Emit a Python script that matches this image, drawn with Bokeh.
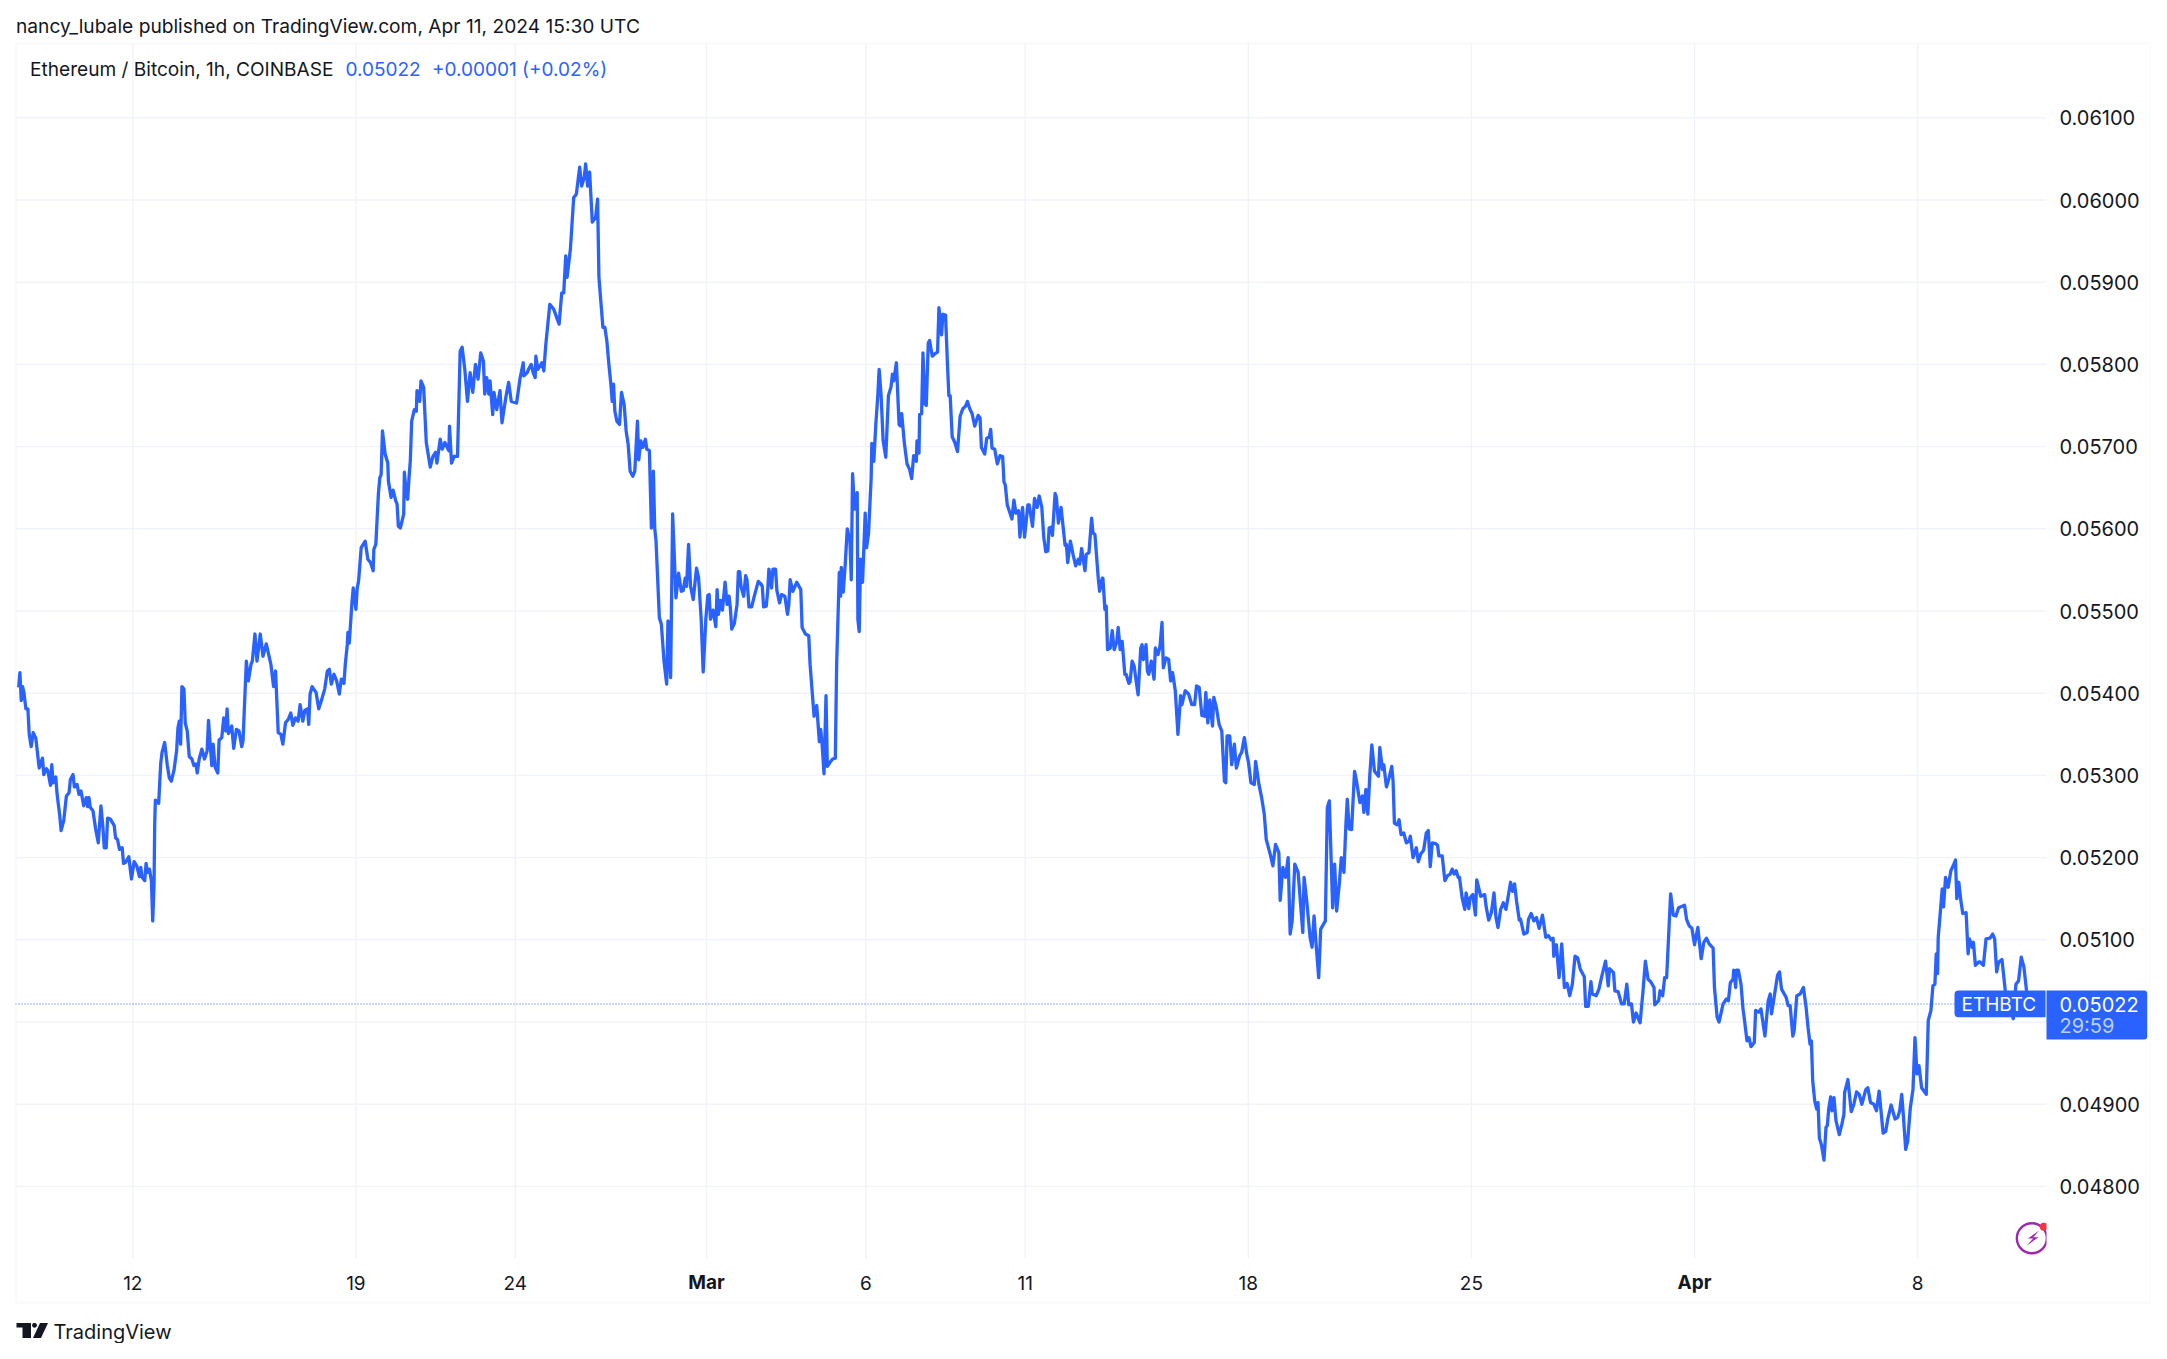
import math
from bokeh.plotting import figure
from bokeh.embed import file_html
from bokeh.resources import INLINE
from bokeh.models import (Range1d, FixedTicker, Label, BoxAnnotation, PolyAnnotation,
                          LinearAxis, NumeralTickFormatter)

# hours since 12 Feb 2024 00:00 UTC, and hourly close x 100000
hours_a = [-86,-85,-84,-83,-82,-80.5,-79,-78,-76.5,-75,
-73,-70.5,-68,-67,-65,-64,-62,-61,-60,-58,
-57,-55,-54,-52,-50,-48,-47,-45,-44,-42,
-40.5,-39,-37,-35,-34,-33,-32,-30,-28,-26,
-24,-22.5,-21.5,-20,-19,-17,-14,-13,-11.5,-10,
-8,-7,-5.5,-3,-1,1,3,5,6,7,
9,10,11,12.5,14,15,16,16.5,17,19.5,
21,22,24,26,27.5,29,31,33,34,35,
36,37,38.5,39.5,41,42.5,44.5,46,47.5,48.5,
50,52,54,56,57,58,59.5,60.5,62,64,
65,67,68.5,70,71,72,74.5,76,78,80,
82,83,85.5,87,89,90,92,93.5,96,98,
100.5,104,106,107.5,109.5,111.5,113,115,117,119,
120.5,122.5,124.5,126,128,129.5,131.5,132.5,133.5,135,
138,140,142,144.5,146.5,148,149.5,151.5,153.5,155.5,
157,159,160]
close_a = [5407,5425,5391,5408,5401,5381,5381,5350,5335,5352,
5345,5309,5321,5301,5308,5306,5288,5313,5291,5298,
5277,5251,5233,5245,5275,5279,5295,5301,5286,5289,
5277,5281,5263,5273,5262,5273,5261,5257,5235,5218,
5263,5237,5212,5212,5248,5247,5239,5224,5222,5210,
5212,5193,5194,5201,5174,5195,5190,5177,5188,5176,
5172,5193,5182,5186,5172,5123,5168,5241,5270,5266,
5314,5328,5340,5312,5297,5293,5306,5330,5358,5366,
5338,5408,5405,5364,5354,5323,5320,5312,5314,5303,
5320,5332,5320,5330,5367,5344,5312,5338,5310,5303,
5343,5346,5370,5354,5381,5351,5360,5333,5356,5354,
5335,5342,5439,5415,5435,5439,5472,5439,5472,5445,
5460,5435,5408,5427,5352,5350,5338,5364,5368,5376,
5361,5370,5366,5386,5366,5379,5381,5362,5399,5408,
5401,5381,5391,5405,5427,5429,5411,5423,5415,5399,
5417,5412,5435]

hours_b = [161.5,162,163,165,166,168,169,170,172,175,
177,179,181,181.5,183,184,185,186,187,188,
190,192,192.5,194.5,196,198,199,200,201.5,204,
204.5,206,207,208,209,210,212,213.5,214,216,
217,219,221,224,226,228,229,231.5,233,235,
238,238.5,240,242,244.5,246.5,248,250,252,254,
256,258,260,262,264,265,266.5,268,269,271,
272,274,276.5,278,281,283,285,289,291.5,294,
294.5,297,298,300,301.5,303,303.5,305,308,309.5,
311]
close_b = [5459,5474,5461,5510,5528,5502,5528,5536,5577,5585,
5563,5559,5549,5575,5581,5613,5644,5662,5666,5719,
5691,5680,5658,5638,5647,5634,5630,5603,5601,5618,
5669,5642,5636,5662,5684,5731,5745,5743,5768,5755,
5780,5772,5705,5675,5688,5693,5680,5709,5697,5705,
5695,5725,5680,5688,5688,5816,5821,5794,5755,5790,
5766,5800,5782,5814,5804,5764,5784,5764,5780,5739,
5766,5745,5768,5729,5761,5778,5755,5753,5782,5802,
5786,5790,5794,5800,5790,5784,5810,5794,5802,5792,
5824]

hours_c = [314,317,321,323,324.5,326,327,329.5,332,334,
336.5,338,340,341,342.5,344,346,348.5,350,351,
354,355.5,357]
close_c = [5873,5867,5849,5887,5887,5932,5906,5940,6003,6007,
6040,6017,6028,6044,6017,6034,5973,5979,6001,5906,
5845,5845,5828]

hours_d = [358.5,360,361,362,363,364.5,366.5,368,370,371.5,
373,374.5,376.5,378,380,381,382.5,384,386,387,
389,390.5,392,393,394,396.5,398,400,402,403,
405,406.5,409,411,413]
close_d = [5800,5776,5755,5776,5743,5731,5727,5766,5751,5719,
5703,5670,5664,5670,5731,5684,5707,5699,5709,5697,
5695,5601,5670,5601,5585,5492,5484,5439,5411,5488,
5419,5618,5516,5546,5524]

hours_e = [414.5,416,417,418.5,420,422,424.5,426,428,429.5,
431.5,433,434,435,437,439,440,441,442.5,444,
446,447.5,449,450,451,453,455,456,457,458,
460,461.5,462.5,464,466,468,471,473,474,475,
477,478,479,481,482,484,485,487,488.5,491,
493,494,495,497,500,503,504,506.5,509,510,
513,515,517,518,519,520.5,522,523,525,527,
529,530,532,533,533.5,535,536.5,538,540,541,
542,543.5,545.5,546,547,548,549.5,551.5,552.5,554,
556,556.5,558,559.5,561,562,563.5,565,567,569,
571,572,573,575,577,578,579,581,583,585,
586.5,588,590,590.5,592,592.5,594,595,596.5,597.5,
599,600,602,604,606,607,608,609,610,612,
613.5,614.5,615.5,617,619,621,623,625,627,628.5,
630,632,634,636.5,638,639,641.5,643,645,646,
647,649,651,653,655,656,657,658.5,662,663.5,
665,667,668,670,671.5,674]
close_e = [5525,5540,5530,5581,5530,5514,5552,5541,5490,5426,
5490,5519,5520,5490,5501,5481,5526,5496,5513,5501,
5535,5508,5518,5503,5478,5485,5508,5548,5548,5530,
5518,5543,5538,5505,5505,5518,5536,5533,5530,5505,
5506,5523,5551,5528,5551,5551,5525,5510,5520,5518,
5496,5508,5538,5524,5535,5526,5480,5472,5470,5435,
5372,5385,5341,5356,5339,5302,5397,5311,5316,5320,
5321,5435,5547,5518,5553,5523,5558,5600,5586,5538,
5667,5624,5644,5490,5475,5563,5535,5619,5577,5594,
5662,5704,5682,5727,5762,5794,5762,5707,5687,5762,
5773,5788,5780,5802,5727,5725,5740,5704,5679,5672,
5661,5689,5682,5707,5692,5739,5740,5814,5752,5750,
5826,5829,5810,5813,5815,5869,5856,5836,5861,5860,
5798,5762,5762,5712,5705,5694,5737,5746,5749,5755,
5747,5740,5725,5738,5735,5699,5691,5710,5712,5721,
5698,5697,5679,5689,5688,5657,5653,5629,5612,5635,
5619,5622,5590,5626,5590,5629]

hours_f = [675,677.5,679,681,682.5,684.5,686,687.5,689,690,
691.5,692.5,694.5,695.5,697,699,702,703,704,706,
708,710,712,713,714.5,717,718,720,722,723,
724.5,727,728,730,730.5,732,733,734,736,737.5,
739,741,742,743.5,745,747,748,750,751,752.5,
754,757,759,760,761,763,764,765,767,769,
770,772,773.5,775,776,778,780,781.5,783,785,
787,789,790,792.5,795,797.5,799.5,801,803,805,
807,808,809.5,811,813,814,816,818,820,822,
823,824,826,827.5,829.5,831,833.5,835,837,839,
840,842,844.5,845.5]
close_f = [5629,5603,5637,5626,5640,5626,5589,5572,5573,5601,
5602,5592,5643,5638,5607,5626,5580,5581,5559,5585,
5569,5555,5563,5557,5576,5549,5569,5571,5613,5595,
5593,5540,5524,5540,5540,5502,5506,5453,5455,5476,
5453,5463,5480,5453,5463,5423,5423,5412,5414,5439,
5433,5398,5455,5459,5441,5459,5427,5423,5439,5417,
5455,5447,5457,5486,5431,5443,5441,5415,5425,5403,
5350,5397,5386,5403,5399,5386,5386,5409,5407,5373,
5372,5401,5364,5392,5360,5395,5382,5362,5354,5293,
5291,5348,5348,5313,5338,5309,5324,5328,5346,5324,
5317,5291,5289,5317]

hours_g = [848,850,852,853.5,856.5,858.5,860.5,863,864,866,
868,870,871.5,873,875,877.5,881,882,884,886.5,
888,889.5,891,893,894.5,898,899.5,901,903.5,905,
906.5,908.5,910,912,913.5,914.5,916,917.75]
close_g = [5289,5273,5253,5222,5204,5190,5216,5206,5148,5188,
5176,5200,5107,5123,5192,5182,5109,5176,5147,5103,
5091,5129,5095,5054,5113,5123,5261,5269,5139,5192,
5135,5168,5200,5182,5241,5271,5235,5234]

hours_h = [920,921.5,924,926,927,928.5,930,931.5,933,935,
938,939,941,942,944,946,948,949,950,952,
953.5,955,957,959,961,962,964,966.5,968,970,
972,974,975.5,977,978.5,981,982.5,983.5,986,988,
990,992,993.5,995,996.5,998,999,1001,1003,1004,
1006,1007,1009,1011,1012,1015,1018,1019,1021,1023,
1025,1026.5,1028,1030,1032,1034,1037.5,1039,1040.5,1042,
1044,1045,1047.5,1050,1051,1053,1055,1057,1059,1061.5,
1064,1066,1068,1069.5,1070,1072,1074,1076,1078,1080,
1082,1084,1086,1088,1090,1093,1094,1096,1098,1099,
1102,1104,1106.5,1109,1111,1112,1115,1116,1118.5,1121,
1123,1125,1126.5,1128.5,1130,1132,1135,1137,1139,1141,
1143,1145.5,1146,1149,1150,1152,1153.5,1155,1158,1160,
1162,1164,1168.5,1170,1172,1174,1176,1178.5]
close_h = [5305,5293,5267,5275,5255,5283,5253,5301,5337,5305,
5299,5334,5307,5313,5286,5297,5311,5293,5242,5240,
5246,5228,5230,5218,5220,5226,5200,5212,5195,5205,
5209,5230,5233,5189,5218,5217,5215,5202,5202,5172,
5178,5180,5186,5180,5184,5176,5176,5151,5137,5157,
5138,5151,5155,5130,5173,5153,5155,5141,5124,5133,
5157,5127,5115,5137,5145,5137,5170,5159,5168,5147,
5124,5125,5107,5109,5125,5132,5123,5127,5114,5130,
5103,5105,5100,5102,5080,5094,5054,5095,5042,5047,
5032,5046,5080,5078,5064,5055,5019,5019,5049,5034,
5032,5040,5058,5074,5044,5065,5060,5038,5037,5022,
5022,5046,5021,5022,5000,5011,4999,5034,5074,5052,
5049,5042,5021,5026,5038,5032,5054,5054,5156,5130,
5129,5139,5142,5125,5117,5114,5094,5115]

hours_i = [1181,1183,1185,1187,1190,1191,1193,1194.5,1197.5,1200,
1201.5,1203,1205,1205.5,1207,1207.5,1209,1211,1212.5,1213.5,
1215.5,1217,1218.5,1221,1222,1224.5,1226,1229,1231.5,1233,
1234,1236.5,1238.5,1240,1241.5,1245,1246.5,1248,1250,1251,
1253,1255.5,1258,1260,1261.5,1263,1264,1265,1266.5,1268,
1269,1270,1271.5,1273.5,1275,1276,1277,1278.5,1279.5,1281,
1282.5,1285,1287,1288.5,1289,1291.5,1294,1296,1298,1300,
1302,1305,1306.5,1308.5,1311,1313,1315,1318,1320,1321.5,
1324,1327,1329,1330.5,1332,1333,1335,1336.5,1338.5,1340.5,
1342,1343.5,1345,1347,1350.5,1352,1354,1355.5,1357,1358,
1359,1359.5,1361,1362.5,1363.5,1365,1367,1369,1371,1372.5,
1373.5,1375,1376.5,1378,1380.5,1382,1383,1385,1386,1387.5,
1390,1391,1393.5,1395.5,1398.5,1400.5,1402,1403.5,1405,1407.5,
1410,1413,1416,1418,1420,1422,1424,1426,1428.5,1431]
close_i = [5077,5097,5102,5095,5090,5042,5006,5000,5022,5028,
5026,5048,5052,5063,5042,5063,5063,5046,5016,5004,
4977,4981,4970,4975,5014,5012,5016,4983,5026,5034,
5010,5036,5057,5061,5040,5030,5020,5020,4983,4989,
5032,5034,5042,5018,4993,4973,4977,4928,4904,4894,
4902,4859,4851,4832,4872,4874,4894,4909,4892,4908,
4880,4863,4876,4888,4914,4930,4891,4900,4915,4912,
4900,4918,4920,4902,4900,4892,4916,4865,4867,4882,
4899,4882,4884,4892,4912,4892,4845,4855,4896,4918,
4981,4937,4947,4920,4912,5002,5014,5044,5046,5083,
5059,5103,5132,5162,5140,5176,5164,5184,5191,5197,
5150,5170,5148,5132,5133,5083,5101,5091,5097,5069,
5073,5073,5069,5101,5102,5107,5101,5061,5073,5076,
5038,5018,5004,5046,5050,5079,5067,5038,5014,5022]

x_tick_hours = [0, 168, 288, 432, 552, 672, 840, 1008, 1176, 1344]
x_tick_labels = ["12", "19", "24", "Mar", "6", "11", "18", "25", "Apr", "8"]
bold_ticks = ["Mar", "Apr"]
y_ticks = [0.048, 0.049, 0.050, 0.051, 0.052, 0.053, 0.054, 0.055, 0.056, 0.057, 0.058, 0.059, 0.060, 0.061]
last_price = 0.05022

hours = hours_a + hours_b + hours_c + hours_d + hours_e + hours_f + hours_g + hours_h + hours_i
closes = [v / 100000 for v in close_a + close_b + close_c + close_d + close_e + close_f + close_g + close_h + close_i]
assert len(hours) == len(closes), (len(hours), len(closes))

BLUE = "#2962FF"
INK = "#131722"
GRID = "#f0f3fa"
BORDER = "#eeeff5"
PURPLE = "#9C27B0"
FONT = "Inter"

PANE_X = (-88.33, 1441.0)
PANE_Y = (0.047123, 0.061904)

W, H = 2151, 1343
p = figure(width=W, height=H, output_backend="svg", toolbar_location=None,
           x_range=Range1d(-99.62, 1520.1), y_range=Range1d(0.046089, 0.062427),
           min_border=0, x_axis_type=None, y_axis_type=None, background_fill_color="white",
           border_fill_color="white", outline_line_color=None)

xax = LinearAxis(ticker=FixedTicker(ticks=x_tick_hours), fixed_location=PANE_Y[0],
                 major_label_overrides={h: ("" if t in bold_ticks else t) for h, t in zip(x_tick_hours, x_tick_labels)})
yax = LinearAxis(ticker=FixedTicker(ticks=y_ticks), fixed_location=PANE_X[1],
                 formatter=NumeralTickFormatter(format="0.00000"))
for ax in (xax, yax):
    ax.axis_line_color = None
    ax.major_tick_line_color = None
    ax.minor_tick_line_color = None
    ax.major_label_text_font = FONT
    ax.major_label_text_color = INK
xax.major_label_text_font_size = "19px"
yax.major_label_text_font_size = "20px"
xax.major_label_standoff = 11
yax.major_label_standoff = 7
p.add_layout(xax, "below")
p.add_layout(yax, "right")

# grid limited to the price pane, drawn from the axis ticks
p.segment(x_tick_hours, [PANE_Y[0]] * len(x_tick_hours), x_tick_hours, [PANE_Y[1]] * len(x_tick_hours),
          line_color=GRID, line_width=1.4)
p.segment([PANE_X[0]] * len(y_ticks), y_ticks, [PANE_X[1]] * len(y_ticks), y_ticks,
          line_color=GRID, line_width=1.4)

# last-price dotted line, then the series
p.line(list(PANE_X), [last_price, last_price], line_color=BLUE, line_width=1.1, line_dash="1 2")
p.line(hours, closes, line_color=BLUE, line_width=3.3, line_join="round")

# Energy badge
p.scatter([1430], [0.04737], marker="circle", size=30, fill_color=None, line_color=PURPLE, line_width=2.4)
p.scatter([1439], [0.04751], marker="circle", size=8, fill_color="#F23645", line_color=None)


def text(s, x, y, size, color=INK, align="left", style="normal"):
    p.add_layout(Label(x=x, y=y, x_units="canvas", y_units="canvas", text=s, text_font=FONT,
                       text_font_size=f"{size}px", text_color=color, text_align=align,
                       text_baseline="middle", text_font_style=style))


def poly(points, color):
    p.add_layout(PolyAnnotation(xs=[a for a, _ in points], ys=[b for _, b in points],
                                xs_units="canvas", ys_units="canvas", fill_color=color, fill_alpha=1.0,
                                line_color=None))


def box(left, top, right, bottom, **kw):
    p.add_layout(BoxAnnotation(left=left, right=right, top=top, bottom=bottom,
                               left_units="canvas", right_units="canvas", top_units="canvas",
                               bottom_units="canvas", **kw))


# badge is cut by the pane edge
box(2046, 1215, 2062, 1262, fill_color="white", fill_alpha=1, line_color=None)

# outer frame
box(15.5, 43, 2150.5, 1302, fill_alpha=0, line_color=BORDER, line_width=2.4)

# bold month tick labels
for h, t in zip(x_tick_hours, x_tick_labels):
    if t in bold_ticks:
        p.add_layout(Label(x=h, y=1281.5, x_units="data", y_units="canvas", text=t, text_font=FONT,
                           text_font_size="19px", text_color=INK, text_font_style="bold",
                           text_align="center", text_baseline="middle"))

# last-price tags
box(1954, 990, 2045, 1016.7, fill_color=BLUE, fill_alpha=1, line_color=None,
    border_radius=dict(top_left=4, top_right=0, bottom_right=0, bottom_left=4))
box(2046, 990, 2146.7, 1039, fill_color=BLUE, fill_alpha=1, line_color=None,
    border_radius=dict(top_left=0, top_right=3, bottom_right=3, bottom_left=0))
text("ETHBTC", 1961, 1003.5, 19, color="white")
text("0.05022", 2059, 1003.5, 20, color="white")
text("29:59", 2059, 1025.5, 20, color="#bcd0ff")

# headers
text("nancy_lubale published on TradingView.com, Apr 11, 2024 15:30 UTC", 15.5, 25.5, 19.2)
text("Ethereum / Bitcoin, 1h, COINBASE", 29.5, 68.5, 19.1)
text("0.05022", 345, 68.5, 19, color=BLUE)
text("+0.00001 (+0.02%)", 431.5, 68.5, 19, color=BLUE)

# TradingView mark
poly([(16, 1322.5), (30.5, 1322.5), (30.5, 1337.5), (22, 1337.5), (22, 1327), (16, 1327)], INK)
poly([(34 + 2.4 * math.cos(a / 8 * math.pi), 1324.8 + 2.4 * math.sin(a / 8 * math.pi)) for a in range(16)], INK)
poly([(39.5, 1322.5), (47.5, 1322.5), (40.5, 1337.5), (32.5, 1337.5)], INK)
text("TradingView", 53, 1331, 20)

# lightning bolt in the badge
poly([(2038.7, 1230), (2027.3, 1238), (2032.7, 1238), (2026, 1245.3), (2038, 1236.7), (2032.7, 1236.7)], PURPLE)

open("out.html", "w").write(file_html(p, INLINE))
